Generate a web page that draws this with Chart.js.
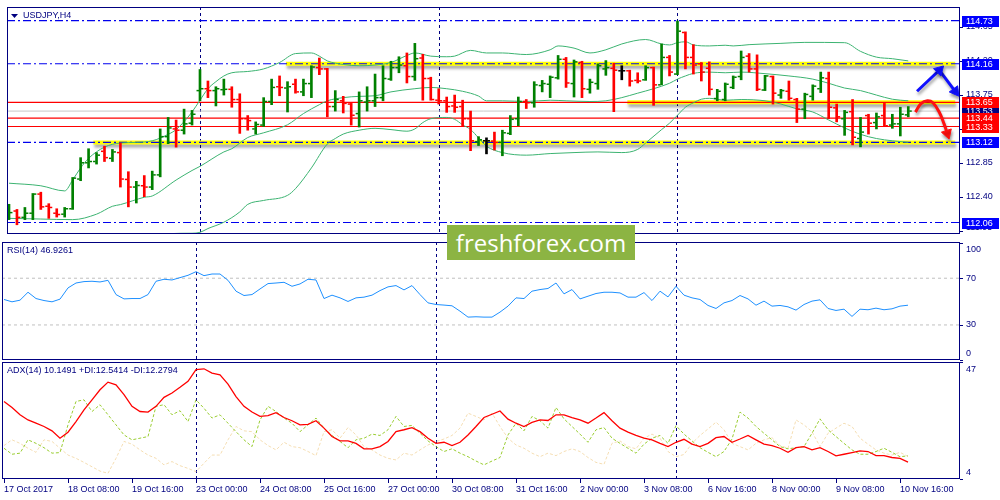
<!DOCTYPE html>
<html>
<head>
<meta charset="utf-8">
<script src="https://cdn.jsdelivr.net/npm/chart.js@4.4.0/dist/chart.umd.min.js"></script>
<style>
  html, body { margin: 0; padding: 0; background: #fff; }
  #wrap { position: relative; width: 1000px; height: 500px; overflow: hidden; background: #fff; }
  #wrap canvas { position: absolute; left: 0; }
  #cMain { top: 0; }
  #cRsi { top: 241px; }
  #cAdx { top: 361px; }
  .wm { position: absolute; left: 447px; top: 225px; width: 188px; height: 35px; background: #8cb443;
        color: #fff; font: 24px "Open Sans", sans-serif; line-height: 35px; text-align: center; z-index: 5; }
</style>
</head>
<body>
<div id="wrap">
  <canvas id="cMain" width="1000" height="241"></canvas>
  <canvas id="cRsi" width="1000" height="120"></canvas>
  <canvas id="cAdx" width="1000" height="139"></canvas>
  <div class="wm">freshforex.com</div>
</div>
<script>
// time axis (one bar = 4 hours, labels every 8 bars)
const timeLabels = ['17 Oct 2017', '18 Oct 08:00', '19 Oct 16:00', '23 Oct 00:00', '24 Oct 08:00', '25 Oct 16:00',
  '27 Oct 00:00', '30 Oct 08:00', '31 Oct 16:00', '2 Nov 00:00', '3 Nov 08:00', '6 Nov 16:00', '8 Nov 00:00',
  '9 Nov 08:00', '10 Nov 16:00'];
const tickBars = [0, 8, 16, 24, 32, 40, 48, 56, 64, 72, 80, 88, 96, 104, 112];
const weekStarts = [24, 54, 84];

// USDJPY H4 bars
const opens = [112.128,112.212,112.128,112.183,112.436,112.275,112.183,112.170,112.242,112.635,
  112.850,112.867,113.002,112.909,112.985,112.630,112.529,112.546,112.529,112.690,
  113.196,113.298,113.281,113.374,113.805,113.830,113.805,113.817,113.822,113.687,
  113.433,113.298,113.349,113.661,113.856,113.839,113.889,113.788,113.898,114.109,
  114.092,113.594,113.670,113.627,113.501,113.653,113.670,113.712,113.957,114.109,
  114.134,113.991,114.236,113.965,113.678,113.670,113.602,113.594,113.433,113.129,
  113.141,113.137,113.120,113.239,113.433,113.661,113.644,113.872,113.889,113.974,
  114.219,113.898,114.177,113.822,113.898,114.092,114.100,114.067,114.067,113.940,
  113.948,114.109,113.881,114.244,114.024,114.574,114.244,114.160,114.100,113.700,
  113.687,113.847,113.991,114.261,114.092,113.813,113.991,113.746,113.796,113.687,
  113.560,113.729,113.830,113.965,113.577,113.433,113.526,113.171,113.475,113.382,
  113.475,113.349,113.365,113.484];
const highs = [112.301,112.233,112.259,112.444,112.461,112.309,112.242,112.259,112.656,112.918,
  113.036,112.985,113.070,113.027,113.112,112.732,112.605,112.681,112.740,113.298,
  113.450,113.416,113.560,113.543,114.084,113.932,113.856,113.957,113.856,113.763,
  113.475,113.391,113.712,113.957,113.999,113.923,113.957,113.957,114.134,114.236,
  114.100,113.805,113.729,113.636,113.788,113.856,114.024,114.134,114.193,114.253,
  114.303,114.430,114.286,113.982,113.830,113.720,113.746,113.678,113.534,113.196,
  113.180,113.256,113.281,113.475,113.720,113.687,113.923,113.940,113.999,114.270,
  114.244,114.210,114.193,113.957,114.160,114.202,114.168,114.134,114.075,114.041,
  114.134,114.117,114.422,114.270,114.726,114.582,114.413,114.177,114.185,113.822,
  113.906,113.999,114.329,114.295,114.278,114.007,113.999,113.822,113.932,113.703,
  113.771,113.881,114.050,114.050,113.627,113.543,113.687,113.450,113.492,113.509,
  113.636,113.492,113.585,113.594];
const lows = [112.098,112.030,112.098,112.098,112.233,112.115,112.132,112.132,112.233,112.613,
  112.782,112.833,112.867,112.867,112.529,112.267,112.318,112.402,112.495,112.664,
  113.103,113.057,113.230,113.349,113.670,113.712,113.602,113.746,113.585,113.239,
  113.281,113.230,113.332,113.619,113.737,113.522,113.771,113.737,113.712,114.016,
  113.458,113.534,113.509,113.349,113.323,113.534,113.594,113.670,113.940,114.041,
  113.906,113.940,113.678,113.678,113.627,113.517,113.517,113.332,113.010,113.078,
  112.968,113.019,112.943,113.222,113.340,113.568,113.585,113.788,113.712,113.957,
  113.847,113.720,113.712,113.771,113.822,114.007,113.526,113.948,113.864,113.906,
  113.940,113.610,113.881,113.999,114.016,114.092,114.024,113.932,113.746,113.670,
  113.670,113.830,113.948,114.050,113.805,113.805,113.627,113.703,113.678,113.382,
  113.433,113.678,113.779,113.433,113.391,113.213,113.087,113.061,113.230,113.298,
  113.332,113.306,113.205,113.458];
const closes = [112.191,112.128,112.183,112.436,112.267,112.259,112.166,112.242,112.647,112.850,
  112.867,112.951,112.918,112.994,112.635,112.529,112.550,112.529,112.690,113.196,
  113.311,113.281,113.365,113.492,113.830,113.805,113.830,113.822,113.687,113.433,
  113.408,113.357,113.661,113.847,113.847,113.856,113.788,113.898,114.117,114.092,
  113.594,113.687,113.636,113.479,113.670,113.670,113.712,113.965,114.109,114.143,
  113.991,114.227,113.965,113.687,113.670,113.594,113.585,113.433,113.141,113.154,
  113.141,113.120,113.247,113.425,113.661,113.644,113.881,113.898,113.982,114.219,
  113.906,114.185,113.830,113.915,114.134,114.109,114.075,114.067,113.932,113.932,
  114.109,113.881,114.244,114.050,114.591,114.244,114.143,114.050,113.822,113.796,
  113.889,113.982,114.244,114.092,113.822,113.999,113.771,113.805,113.703,113.560,
  113.754,113.864,113.974,113.585,113.458,113.517,113.188,113.256,113.374,113.458,
  113.340,113.365,113.492,113.534];

// Bollinger bands (bar index, price)
const upperBars = [0,4,7,8,9,10,12,14,16,18,20,21,22,23,24,25,26,27,28,30,32,34,36,38,39,40,42,44,46,48,50,51,53,55,56,58,60,
  62,65,68,69,71,73,75,77,80,82,83,84,85,86,88,90,91,93,97,100,105,107,109,111,113];
const upperBand = [112.580,112.546,112.478,112.622,112.782,112.909,113.057,113.112,113.120,113.141,113.226,113.289,113.395,
  113.522,113.678,113.830,113.923,113.999,114.041,114.058,114.092,114.177,114.295,114.303,114.261,114.198,114.151,114.134,
  114.143,114.177,114.270,114.303,114.261,114.253,114.261,114.337,114.303,114.303,114.282,114.345,114.396,114.367,114.303,
  114.345,114.422,114.481,114.422,114.409,114.439,114.451,114.409,114.396,114.405,114.396,114.413,114.430,114.443,114.439,
  114.324,114.248,114.227,114.198];
const middleBars = [0,4,8,11,13,14,17,18,21,23,24,27,28,30,32,35,37,39,40,42,44,46,48,51,53,55,57,59,60,62,65,68,70,73,75,
  77,79,81,83,84,85,86,88,90,92,95,98,101,103,105,107,109,111,113];
const middleBand = [112.115,112.106,112.098,112.170,112.275,112.297,112.394,112.411,112.622,112.748,112.803,112.994,113.036,
  113.184,113.247,113.353,113.501,113.619,113.670,113.712,113.729,113.737,113.788,113.830,113.847,113.830,113.796,113.733,
  113.670,113.670,113.661,113.678,113.670,113.661,113.670,113.712,113.771,113.830,113.902,113.957,113.999,114.033,114.050,
  114.041,114.050,114.029,113.999,113.957,113.902,113.839,113.805,113.746,113.691,113.670];
const lowerBars = [0,8,14,18,20,23,24,25,27,29,30,32,35,36,38,40,41,42,44,46,48,50,51,52,53,55,56,57,58,59,60,62,65,68,71,
  74,77,79,80,82,83,84,85,86,87,88,90,92,95,97,99,101,103,105,107,109,111,113];
const lowerBand = [111.650,111.580,111.500,111.700,111.912,111.918,111.930,111.980,112.064,112.200,112.300,112.352,112.419,
  112.508,112.782,113.099,113.171,113.230,113.281,113.306,113.289,113.268,113.298,113.382,113.433,113.450,113.425,113.353,
  113.290,113.180,113.070,112.985,112.951,112.972,112.985,112.994,112.985,113.027,113.112,113.289,113.374,113.479,113.585,
  113.644,113.691,113.703,113.678,113.687,113.670,113.627,113.564,113.522,113.416,113.311,113.226,113.171,113.141,113.120];

// price levels drawn on the chart
const blueLevels = [114.73, 114.16, 113.12, 112.06];
const redLevels = [113.65, 113.44, 113.33];
const zoneLevels = [113.12, 114.16, 113.65];
const zoneFrom = [10.6, 34.8, 77.7];
const zoneTo = [118.9, 118.9, 118.9];
const priceTicks = [114.65, 114.20, 113.75, 113.30, 112.85, 112.40, 111.95];

// forecast arrows (bar index, price)
const blueArrowBars = [114.1, 116.9, 118.9];
const blueArrowPrices = [113.796, 114.075, 113.796];
const redArrowBars = [113.9, 114.6, 115.4, 116.1, 116.9, 117.5, 117.9];
const redArrowPrices = [113.521, 113.632, 113.670, 113.644, 113.518, 113.365, 113.239];

// RSI(14)
const rsi = [51.8,49.8,51.2,58.0,52.6,50.9,49.8,52.1,61.7,65.9,67.1,67.4,66.8,68.2,56.0,52.3,52.6,52.6,56.0,67.4,
  69.1,68.5,70.5,72.5,75.6,72.2,73.6,73.6,68.2,58.9,55.2,56.0,60.8,65.4,65.9,66.5,63.1,65.1,69.1,68.5,
  52.6,55.5,53.2,50.1,53.2,53.8,55.5,59.4,62.6,63.7,60.0,63.7,56.0,48.9,47.5,47.0,46.4,41.8,36.7,37.0,
  36.7,36.7,41.0,46.1,53.2,52.6,58.9,60.3,61.2,65.9,56.6,60.3,52.3,54.6,56.9,58.0,58.0,57.4,53.8,53.8,
  57.7,50.9,58.9,54.0,63.1,55.5,53.2,51.8,46.7,44.1,48.9,50.9,55.2,52.3,46.9,50.4,46.1,46.7,45.5,42.7,
  47.5,50.4,51.5,44.1,42.4,43.5,37.3,43.5,43.0,44.4,43.0,43.8,46.1,46.9];
const rsiLevels = [70, 30];
const rsiTicks = [100, 70, 30, 0];

// ADX(14)
const adx = [32.5,30.3,27.6,25.7,24.5,23.3,21.7,19.0,21.2,25.1,29.4,33.1,36.8,39.6,38.6,35.0,30.7,28.8,28.6,30.7,
  34.0,35.6,37.7,39.9,44.2,44.5,42.9,42.3,38.9,34.3,30.7,28.6,27.0,27.3,28.4,26.6,25.4,23.9,24.1,25.4,
  22.7,19.6,18.0,18.0,17.1,15.1,15.1,15.9,17.8,21.4,22.1,22.9,21.4,19.0,17.1,17.5,16.3,17.5,20.2,23.3,
  26.6,27.8,29.0,26.0,24.5,23.3,24.8,25.7,25.5,27.6,27.6,26.6,25.7,24.5,26.4,28.4,25.4,22.7,21.2,20.0,
  19.0,18.4,17.1,15.9,17.5,18.6,16.8,15.9,17.1,19.2,19.6,17.5,18.7,20.0,18.4,16.8,16.3,15.3,13.8,15.5,
  15.9,14.7,15.5,14.1,12.5,13.1,13.7,14.3,14.1,12.6,12.6,11.9,11.6,10.2];
const plusDi = [15.3,13.1,13.5,18.4,17.1,15.5,13.5,13.7,23.9,32.5,33.1,28.8,31.3,27.6,23.9,20.2,18.4,19.0,19.6,30.7,
  31.3,27.6,29.1,25.1,33.1,30.0,26.4,27.6,24.5,21.4,18.4,15.9,25.7,30.7,28.8,26.4,24.5,21.4,23.9,26.4,
  22.7,20.0,17.8,15.5,18.4,19.0,20.5,20.0,22.1,27.0,23.3,23.7,20.8,18.0,15.9,14.1,15.1,13.5,12.2,10.6,
  9.2,10.6,11.9,20.2,24.5,21.7,27.0,25.4,22.7,30.3,26.1,23.3,20.5,17.5,22.1,22.9,19.0,17.1,15.3,13.5,
  16.8,19.0,20.0,17.1,23.6,20.5,18.0,15.5,13.8,12.2,14.1,18.7,28.6,26.4,23.3,20.8,18.4,15.9,15.1,15.5,
  15.9,20.8,26.1,22.1,19.6,17.1,14.7,13.1,13.1,14.1,15.3,13.8,12.2,12.5];
const minusDi = [16.3,18.4,17.1,15.3,13.8,18.4,17.8,15.3,12.8,11.6,10.1,8.5,6.9,6.1,11.6,17.8,16.8,14.7,12.8,11.6,
  9.2,10.4,8.9,7.9,6.7,9.8,12.8,12.8,18.4,23.3,21.7,21.4,18.4,16.3,14.7,17.5,15.9,15.5,14.1,12.6,
  21.4,22.1,19.0,22.9,20.2,15.9,14.7,12.8,11.6,11.0,13.5,12.8,14.7,16.5,17.8,18.7,20.0,22.7,28.2,27.0,
  25.7,28.2,23.3,19.0,16.5,15.3,13.5,12.2,13.5,12.6,14.1,15.1,14.1,11.9,10.1,9.4,17.1,18.0,15.9,15.1,
  19.0,20.5,19.0,14.1,12.2,13.0,17.1,20.0,22.4,24.9,22.1,17.1,15.9,14.7,17.1,18.4,19.2,16.3,15.3,25.7,
  23.9,21.4,15.9,20.8,22.7,24.5,23.3,19.0,16.8,14.7,13.5,12.8,13.8,12.3];
const adxTicks = [47, 4];

const NAVY = '#000080';
const X_MIN = -0.25, X_MAX = 119.5;
const TICK = 0.28;

Chart.defaults.font.family = '"Liberation Sans", Arial, sans-serif';
Chart.defaults.font.size = 9;

// MT4 look: week separators, frame, titles, right-hand price labels, shadows
const mt4 = {
  id: 'mt4',
  beforeDatasetsDraw(chart) {
    const { ctx, chartArea: a, scales: { x } } = chart;
    ctx.save();
    ctx.strokeStyle = NAVY;
    ctx.lineWidth = 1;
    ctx.setLineDash([3, 3]);
    weekStarts.forEach(b => {
      const px = Math.round(x.getPixelForValue(b)) + 0.5;
      ctx.beginPath();
      ctx.moveTo(px, a.top);
      ctx.lineTo(px, a.bottom);
      ctx.stroke();
    });
    ctx.restore();
  },
  beforeDatasetDraw(chart, args) {
    const ds = chart.data.datasets[args.index];
    if (ds.shadow) {
      const c = chart.ctx;
      c.save();
      c.shadowColor = ds.shadow;
      c.shadowBlur = 3;
      c.shadowOffsetX = 1;
      c.shadowOffsetY = 3;
    }
  },
  afterDatasetDraw(chart, args) {
    if (chart.data.datasets[args.index].shadow) chart.ctx.restore();
  },
  afterDraw(chart, args, o) {
    const { ctx, chartArea: a, scales: { y } } = chart;
    ctx.save();
    ctx.strokeStyle = NAVY;
    ctx.lineWidth = 1;
    ctx.strokeRect(a.left + 0.5, a.top + 0.5, a.right - a.left - 1, a.bottom - a.top - 1);

    ctx.font = '9px "Liberation Sans", Arial, sans-serif';
    ctx.textBaseline = 'middle';
    ctx.textAlign = 'left';
    let tx = a.left + 5;
    if (o.arrow) {
      ctx.fillStyle = NAVY;
      ctx.beginPath();
      ctx.moveTo(a.left + 4, a.top + 7);
      ctx.lineTo(a.left + 11, a.top + 7);
      ctx.lineTo(a.left + 7.5, a.top + 11);
      ctx.closePath();
      ctx.fill();
      tx = a.left + 16;
    }
    ctx.fillStyle = NAVY;
    ctx.fillText(o.title, tx, a.top + 9);

    const clampY = p => Math.min(Math.max(p, a.top + 7.5), a.bottom - 6.5);
    (o.ticks || []).forEach(t => {
      const py = y.getPixelForValue(t);
      const ly = Math.round(py) + 0.5;
      ctx.beginPath();
      ctx.moveTo(a.right, ly);
      ctx.lineTo(a.right + 3, ly);
      ctx.stroke();
      ctx.fillStyle = NAVY;
      ctx.fillText(o.fmt ? t.toFixed(2) : String(t), a.right + 6, clampY(py));
    });
    (o.boxes || []).forEach(b => {
      const py = Math.round(y.getPixelForValue(b.v));
      ctx.fillStyle = b.bg;
      ctx.fillRect(a.right + 2, py - 5, 37, 11);
      ctx.fillStyle = '#ffffff';
      ctx.fillText(b.v.toFixed(2), a.right + 6, py + 0.5);
    });
    ctx.restore();
  }
};

const pts = (xs, ys) => ys.map((v, i) => ({ x: xs ? xs[i] : i, y: v }));
const hline = (v, from, to, color, width, dash, order, extra) => Object.assign({
  type: 'line', data: [{ x: from, y: v }, { x: to, y: v }], borderColor: color, borderWidth: width,
  borderDash: dash || [], pointRadius: 0, order: order
}, extra || {});

function panel(id, datasets, yMin, yMax, padding, mtOpts, xExtra) {
  return new Chart(document.getElementById(id), {
    type: 'line',
    data: { datasets },
    options: {
      responsive: false,
      animation: false,
      events: [],
      layout: { padding },
      scales: {
        x: Object.assign({ type: 'linear', min: X_MIN, max: X_MAX, offset: false, bounds: 'data', display: false }, xExtra || {}),
        y: { type: 'linear', min: yMin, max: yMax, bounds: 'data', display: false }
      },
      plugins: { legend: { display: false }, tooltip: { enabled: false }, mt4: mtOpts }
    },
    plugins: [mt4]
  });
}

// ---------- main price panel ----------
const barColor = closes.map((c, i) => Math.abs(c - opens[i]) < 0.001 ? '#000000' : (c > opens[i] ? '#008000' : '#ff0000'));
const lastClose = closes[closes.length - 1];

const mainSets = [];
zoneLevels.forEach((v, i) => mainSets.push(hline(v, zoneFrom[i], zoneTo[i], '#ffff00', 4, null, 9, { shadow: 'rgba(0,0,0,0.35)' })));
mainSets.push(hline(lastClose, X_MIN, X_MAX, '#c8c8c8', 1, null, 8));
redLevels.forEach(v => mainSets.push(hline(v, X_MIN, X_MAX, '#ff0000', 1.2, null, 7)));
blueLevels.forEach(v => mainSets.push(hline(v, X_MIN, X_MAX, '#0000ee', 1.2, [8, 3, 2, 3], 6)));
[[upperBars, upperBand], [middleBars, middleBand], [lowerBars, lowerBand]].forEach(([b, v]) => mainSets.push({
  type: 'line', data: pts(b, v), borderColor: '#3cb371', borderWidth: 1, pointRadius: 0,
  cubicInterpolationMode: 'monotone', order: 5
}));
mainSets.push({
  type: 'bar', data: highs.map((h, i) => ({ x: i, y: [lows[i], h] })), backgroundColor: barColor,
  borderWidth: 0, barThickness: 2, grouped: false, order: 3
});
mainSets.push({
  type: 'line', showLine: false, data: opens.map((o, i) => ({ x: i - TICK, y: o })), pointStyle: 'line',
  pointRadius: 1.25, pointBorderWidth: 1.5, pointBorderColor: barColor, pointBackgroundColor: barColor, order: 2
});
mainSets.push({
  type: 'line', showLine: false, data: closes.map((c, i) => ({ x: i + TICK, y: c })), pointStyle: 'line',
  pointRadius: 1.25, pointBorderWidth: 1.5, pointBorderColor: barColor, pointBackgroundColor: barColor, order: 2
});
mainSets.push({
  type: 'line', data: pts(blueArrowBars, blueArrowPrices), borderColor: '#1010ff', borderWidth: 3,
  pointStyle: 'triangle', pointRadius: [0, 6, 6], pointRotation: [0, 45, 144],
  pointBackgroundColor: '#1010ff', pointBorderColor: '#1010ff', pointBorderWidth: 1, order: 0, shadow: 'rgba(0,0,0,0.35)'
});
mainSets.push({
  type: 'line', data: pts(redArrowBars, redArrowPrices), borderColor: '#ff1010', borderWidth: 3, tension: 0.4,
  pointStyle: 'triangle', pointRadius: [0, 0, 0, 0, 0, 0, 6], pointRotation: [0, 0, 0, 0, 0, 0, 162],
  pointBackgroundColor: '#ff1010', pointBorderColor: '#ff1010', pointBorderWidth: 1, order: 0, shadow: 'rgba(0,0,0,0.35)'
});

const boxes = [{ v: lastClose, bg: NAVY }]
  .concat(blueLevels.map(v => ({ v, bg: '#0000ff' })))
  .concat(redLevels.map(v => ({ v, bg: '#ff0000' })));

panel('cMain', mainSets, 111.908, 114.911, { top: 2, bottom: 2, left: 2, right: 40 },
  { title: 'USDJPY,H4', arrow: true, ticks: priceTicks, fmt: true, boxes });

// ---------- RSI panel ----------
const rsiSets = rsiLevels.map(v => hline(v, X_MIN, X_MAX, '#c0c0c0', 1, [3, 3], 5));
rsiSets.push({ type: 'line', data: pts(null, rsi), borderColor: '#1e90ff', borderWidth: 1, pointRadius: 0, order: 1 });
panel('cRsi', rsiSets, 0, 101, { top: 1, bottom: 1, left: 2, right: 40 },
  { title: 'RSI(14) 46.9261', ticks: rsiTicks });

// ---------- ADX panel ----------
const adxSets = [
  { type: 'line', data: pts(null, minusDi), borderColor: '#f5deb3', borderWidth: 1, borderDash: [3, 2], pointRadius: 0, order: 3 },
  { type: 'line', data: pts(null, plusDi), borderColor: '#9acd32', borderWidth: 1, borderDash: [3, 2], pointRadius: 0, order: 2 },
  { type: 'line', data: pts(null, adx), borderColor: '#ff0000', borderWidth: 1.3, pointRadius: 0, order: 1 }
];
panel('cAdx', adxSets, 4, 47, { top: 1, bottom: 1, left: 2, right: 40 },
  { title: 'ADX(14) 10.1491 +DI:12.5414 -DI:12.2794', ticks: adxTicks },
  {
    display: true, position: 'bottom',
    afterBuildTicks: s => { s.ticks = tickBars.map(v => ({ value: v })); },
    afterFit: s => { s.height = 20; },
    grid: { display: true, drawOnChartArea: false, drawTicks: true, tickLength: 4, color: NAVY },
    border: { display: false },
    ticks: {
      autoSkip: false, maxRotation: 0, minRotation: 0, align: 'start', padding: 1, color: NAVY,
      font: { size: 9 }, callback: (v, i) => timeLabels[i]
    }
  });
</script>
</body>
</html>
